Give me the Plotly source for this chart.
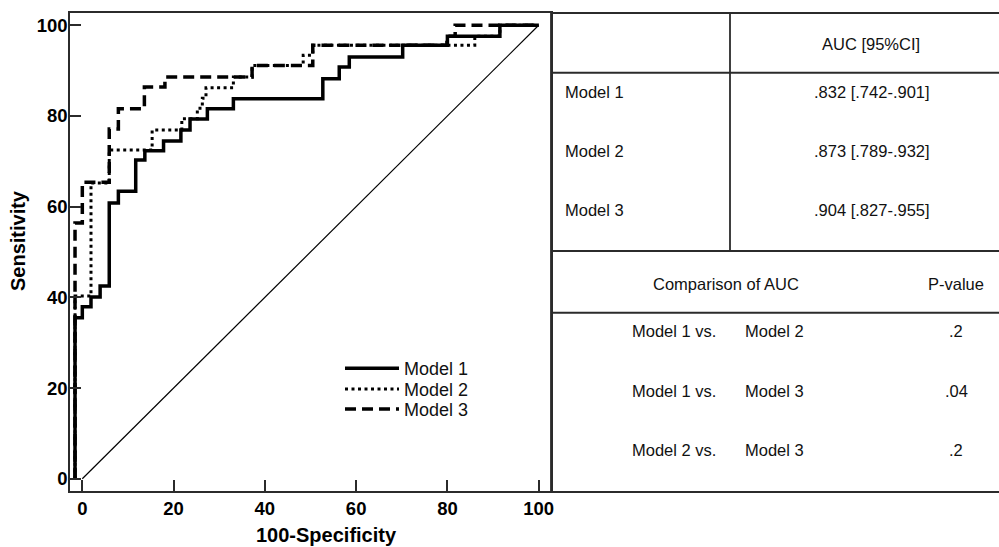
import plotly.graph_objects as go

# ---------------- data ----------------
model1_fpr = [-1.6, -1.6, 0.0, 1.9, 3.9, 5.9, 7.9, 11.7, 13.7, 17.8, 21.6, 23.6, 27.4, 33.1, 52.7, 56.3, 58.5, 70.2, 80.0, 91.5, 100]
model1_tpr = [0, 35.5, 37.9, 40.1, 42.5, 60.8, 63.4, 70.3, 72.3, 74.5, 76.9, 79.3, 81.6, 83.8, 88.2, 90.8, 93.0, 95.6, 97.6, 100, 100]

model2_fpr = [-1.6, -1.6, 1.9, 5.9, 15.3, 21.8, 25.2, 26.3, 27.1, 33.1, 37.2, 48.4, 50.5, 86.0, 91.5, 100]
model2_tpr = [0, 40.3, 65.2, 72.5, 76.9, 79.4, 81.7, 83.9, 86.2, 88.6, 91.1, 93.4, 95.6, 97.6, 100, 100]

model3_fpr = [-1.6, -1.6, 0.0, 5.9, 7.9, 13.6, 18.1, 37.2, 50.5, 79.9, 81.7, 100]
model3_tpr = [0, 56.4, 65.4, 77.1, 81.6, 86.4, 88.6, 91.1, 95.6, 97.6, 100, 100]

diag_x = [0, 100]
diag_y = [0, 100]

series_names = ["Model 1", "Model 2", "Model 3"]
tick_vals = [0, 20, 40, 60, 80, 100]

auc_header = "AUC [95%CI]"
auc_models = ["Model 1", "Model 2", "Model 3"]
auc_values = [".832 [.742-.901]", ".873 [.789-.932]", ".904 [.827-.955]"]

cmp_header = "Comparison of AUC"
p_header = "P-value"
cmp_left = ["Model 1 vs.", "Model 1 vs.", "Model 2 vs."]
cmp_right = ["Model 2", "Model 3", "Model 3"]
p_values = [".2", ".04", ".2"]

# ---------------- layout helpers (pixel -> paper) ----------------
W, H = 999, 547
L, R, T, B = 70, 551, 11, 491


def px_x(px):
    return (px - L) / (R - L)


def px_y(py):
    return (B - py) / (B - T)


FONT = "Liberation Sans, Arial, sans-serif"
INK = "#111111"
LINE = "#2b2b2b"

fig = go.Figure()

fig.add_trace(go.Scatter(x=diag_x, y=diag_y, mode="lines",
                         line=dict(color="black", width=1.2),
                         showlegend=False, hoverinfo="skip"))

fig.add_trace(go.Scatter(x=model1_fpr, y=model1_tpr, mode="lines", name=series_names[0],
                         legend="legend",
                         line=dict(color="black", width=3.5, shape="hv")))
fig.add_trace(go.Scatter(x=model2_fpr, y=model2_tpr, mode="lines", name=series_names[1],
                         legend="legend2",
                         line=dict(color="black", width=3, shape="hv", dash="3px,3.5px")))
fig.add_trace(go.Scatter(x=model3_fpr, y=model3_tpr, mode="lines", name=series_names[2],
                         legend="legend3",
                         line=dict(color="black", width=3.5, shape="hv", dash="11px,6px")))

axis_common = dict(
    tickvals=tick_vals,
    ticks="inside", ticklen=11, tickwidth=1.5, tickcolor=LINE,
    showline=True, linewidth=1.5, linecolor=LINE, mirror=True,
    showgrid=False, zeroline=False,
    tickfont=dict(family=FONT, size=18.5, color="black", weight="bold"),
    range=[-2.7, 102.7],
)


def leg(py):
    return dict(x=px_x(340), y=px_y(py), xanchor="left", yanchor="middle",
                bgcolor="rgba(0,0,0,0)", borderwidth=0, itemwidth=54,
                font=dict(family=FONT, size=18, color=INK))


fig.update_layout(
    width=W, height=H,
    margin=dict(l=L, r=W - R, t=T, b=H - B, pad=0),
    paper_bgcolor="white", plot_bgcolor="white",
    xaxis=axis_common,
    yaxis=dict(axis_common, ticklabelstandoff=-3),
    showlegend=True,
    legend=leg(368),
    legend2=leg(389),
    legend3=leg(409),
)

ann = []
# axis titles
ann.append(dict(text="Sensitivity", x=px_x(18), y=px_y(240), xref="paper", yref="paper",
                showarrow=False, textangle=-90, xanchor="center", yanchor="middle",
                font=dict(family=FONT, size=20, color="black", weight="bold")))
ann.append(dict(text="100-Specificity", x=px_x(326), y=px_y(535), xref="paper", yref="paper",
                showarrow=False, xanchor="center", yanchor="middle",
                font=dict(family=FONT, size=20, color="black", weight="bold")))

tfont = dict(family=FONT, size=16.5, color=INK)


def txt(s, px, py, anchor="center"):
    ann.append(dict(text=s, x=px_x(px), y=px_y(py), xref="paper", yref="paper",
                    showarrow=False, xanchor=anchor, yanchor="middle", font=tfont))


txt(auc_header, 871, 42)
row_y = [90, 150, 209]
for name, val, yy in zip(auc_models, auc_values, row_y):
    txt(name, 563, yy, "left")
    txt(val, 872, yy)

txt(cmp_header, 726, 283)
txt(p_header, 956, 283)
cmp_y = [330, 391, 450]
for a, b, p, yy in zip(cmp_left, cmp_right, p_values, cmp_y):
    txt(a, 718, yy, "right")
    txt(b, 743, yy, "left")
    txt(p, 956, yy)

fig.update_layout(annotations=ann)

# table rules
shapes = []


def hline(py, x0=551, x1=999):
    shapes.append(dict(type="line", xref="paper", yref="paper",
                       x0=px_x(x0), x1=px_x(x1), y0=px_y(py), y1=px_y(py),
                       line=dict(color=LINE, width=1.8)))


def vline(px, y0, y1):
    shapes.append(dict(type="line", xref="paper", yref="paper",
                       x0=px_x(px), x1=px_x(px), y0=px_y(y0), y1=px_y(y1),
                       line=dict(color=LINE, width=1.8)))


hline(11)
hline(71)
hline(250)
hline(312)
hline(492)
vline(551, 11, 492)
vline(730, 11, 250)

fig.update_layout(shapes=shapes)

fig.write_html("out.html",
               config={"displayModeBar": False},
               post_script="document.body.style.margin='0px';document.body.style.overflow='hidden';")
